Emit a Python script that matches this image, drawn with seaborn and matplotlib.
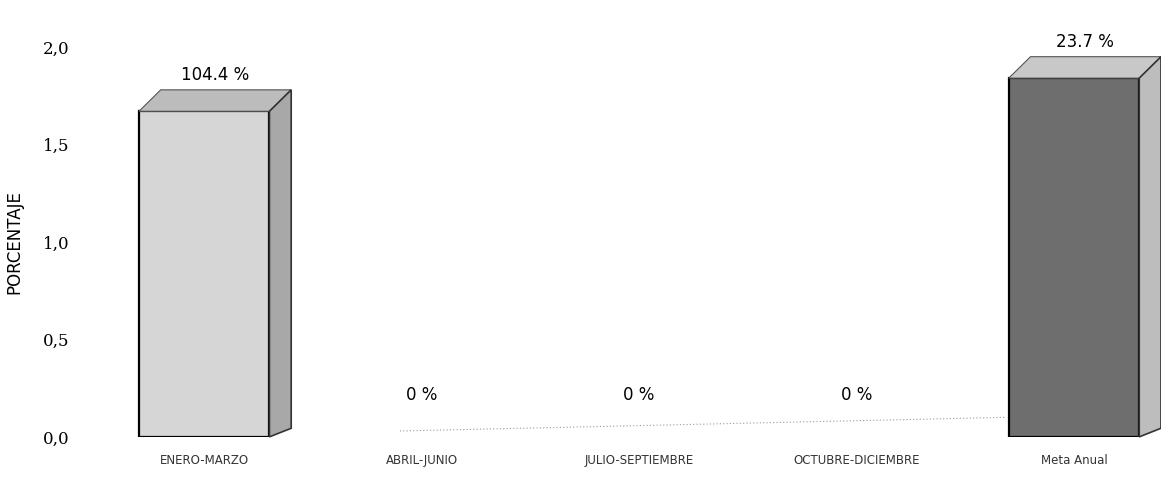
"""Porcentaje de avance trimestral (bar chart with pseudo-3D depth)."""

import matplotlib
import matplotlib.pyplot as plt
import pandas as pd
import seaborn as sns
from matplotlib.patches import Polygon

matplotlib.use("Agg")

categories = ["ENERO-MARZO", "ABRIL-JUNIO", "JULIO-SEPTIEMBRE", "OCTUBRE-DICIEMBRE", "Meta Anual"]
values = [1.67, 0.0, 0.0, 0.0, 1.84]
value_labels = ["104.4 %", "0 %", "0 %", "0 %", "23.7 %"]
y_ticks = [0.0, 0.5, 1.0, 1.5, 2.0]
y_tick_labels = ["0,0", "0,5", "1,0", "1,5", "2,0"]

front_colors = ["#d6d6d6", "#d6d6d6", "#d6d6d6", "#d6d6d6", "#6e6e6e"]
side_colors = ["#a8a8a8", "#a8a8a8", "#a8a8a8", "#a8a8a8", "#bdbdbd"]
top_colors = ["#bcbcbc", "#bcbcbc", "#bcbcbc", "#bcbcbc", "#c8c8c8"]

sns.set_theme(style="white")
plt.rcParams["font.family"] = ["DejaVu Sans"]

df = pd.DataFrame({"periodo": categories, "valor": values})

fig = plt.figure(figsize=(11.61, 4.79), dpi=100)
ax = fig.add_axes([0.086, 0.088, 0.914, 0.814])

sns.barplot(data=df, x="periodo", y="valor", hue="periodo", palette=front_colors,
            width=0.6, edgecolor="black", linewidth=1.6, legend=False, ax=ax)

# fake depth: top and right side faces built from each bar patch
dx, dy = 0.1, 0.11
for i, patch in enumerate(ax.patches[:len(categories)]):
    x0 = patch.get_x()
    w = patch.get_width()
    h = patch.get_height()
    if h <= 0:
        patch.set_linewidth(0)
        continue
    top = Polygon([(x0, h), (x0 + dx, h + dy), (x0 + w + dx, h + dy), (x0 + w, h)],
                  closed=True, facecolor=top_colors[i], edgecolor="#555555", lw=0.8, clip_on=False)
    side = Polygon([(x0 + w, 0), (x0 + w + dx, dy * 0.4), (x0 + w + dx, h + dy), (x0 + w, h)],
                   closed=True, facecolor=side_colors[i], edgecolor="#333333", lw=1.2, clip_on=False)
    ax.add_patch(top)
    ax.add_patch(side)

# faint dotted floor under the empty quarters
ax.plot([0.9, 3.68], [0.03, 0.1], ls=(0, (1, 2)), color="#999999", lw=0.8, zorder=0)

for i, (v, lab) in enumerate(zip(values, value_labels)):
    y = v + dy + 0.03 if v > 0 else 0.17
    ax.text(i + (dx / 2 if v > 0 else 0), y, lab, ha="center", va="bottom", fontsize=12, color="black")

ax.set_xlim(-0.48, 4.4)
ax.set_ylim(0, 2.0)
ax.set_yticks(y_ticks)
ax.set_yticklabels(y_tick_labels, fontsize=12, family="DejaVu Serif", color="black")
ax.set_ylabel("PORCENTAJE", fontsize=12, labelpad=14, color="black")
ax.set_xlabel("")
ax.tick_params(axis="x", labelsize=8.5, pad=12, labelcolor="#333333")
ax.tick_params(axis="y", pad=22, length=0)
ax.tick_params(axis="x", length=0)
sns.despine(ax=ax, left=True, bottom=True)

fig.savefig("out.png", dpi=100)
plt.close(fig)
